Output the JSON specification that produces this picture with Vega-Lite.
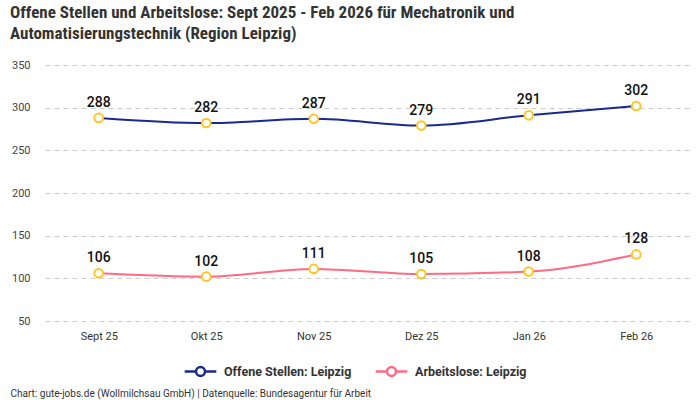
{
  "$schema": "https://vega.github.io/schema/vega-lite/v6.json",
  "autosize": {"type": "none"},
  "width": 645,
  "height": 256,
  "padding": {"left": 45, "top": 65, "right": 10, "bottom": 79},
  "background": "white",
  "title": {
    "text": ["Offene Stellen und Arbeitslose: Sept 2025 - Feb 2026 für Mechatronik und", "Automatisierungstechnik (Region Leipzig)"],
    "anchor": "start",
    "offset": 16,
    "font": "Liberation Sans Narrow, Roboto Condensed, Roboto",
    "fontSize": 17,
    "fontWeight": "bold",
    "color": "#333333",
    "lineHeight": 21
  },
  "config": {
    "view": {"stroke": null},
    "font": "Roboto"
  },
  "data": {
    "values": [
      {"monat": "Sept 25", "serie": "Offene Stellen: Leipzig", "wert": 288},
      {"monat": "Okt 25", "serie": "Offene Stellen: Leipzig", "wert": 282},
      {"monat": "Nov 25", "serie": "Offene Stellen: Leipzig", "wert": 287},
      {"monat": "Dez 25", "serie": "Offene Stellen: Leipzig", "wert": 279},
      {"monat": "Jan 26", "serie": "Offene Stellen: Leipzig", "wert": 291},
      {"monat": "Feb 26", "serie": "Offene Stellen: Leipzig", "wert": 302},
      {"monat": "Sept 25", "serie": "Arbeitslose: Leipzig", "wert": 106},
      {"monat": "Okt 25", "serie": "Arbeitslose: Leipzig", "wert": 102},
      {"monat": "Nov 25", "serie": "Arbeitslose: Leipzig", "wert": 111},
      {"monat": "Dez 25", "serie": "Arbeitslose: Leipzig", "wert": 105},
      {"monat": "Jan 26", "serie": "Arbeitslose: Leipzig", "wert": 108},
      {"monat": "Feb 26", "serie": "Arbeitslose: Leipzig", "wert": 128}
    ]
  },
  "encoding": {
    "x": {
      "field": "monat",
      "type": "ordinal",
      "sort": ["Sept 25", "Okt 25", "Nov 25", "Dez 25", "Jan 26", "Feb 26"],
      "scale": {"type": "point", "padding": 0.5},
      "axis": {
        "title": "Chart: gute-jobs.de (Wollmilchsau GmbH) | Datenquelle: Bundesagentur für Arbeit",
        "titleAnchor": "start",
        "titleAlign": "left",
        "titleX": -35,
        "titleY": 72,
        "titleBaseline": "middle",
        "titleFont": "Roboto",
        "titleFontSize": 10,
        "titleFontWeight": "normal",
        "titleColor": "#333333",
        "labelAngle": 0,
        "labelFontSize": 11,
        "labelColor": "#333333",
        "labelPadding": 9,
        "domain": false,
        "ticks": false,
        "grid": false
      }
    },
    "y": {
      "field": "wert",
      "type": "quantitative",
      "scale": {"domain": [50, 350], "nice": false},
      "axis": {
        "title": null,
        "values": [50, 100, 150, 200, 250, 300, 350],
        "labelFontSize": 11,
        "labelColor": "#444444",
        "labelPadding": 15,
        "domain": false,
        "ticks": false,
        "grid": true,
        "gridColor": "#cccccc",
        "gridDash": [5, 4],
        "gridWidth": 1
      }
    }
  },
  "layer": [
    {
      "mark": {"type": "line", "interpolate": "monotone", "strokeWidth": 2},
      "encoding": {
        "color": {
          "field": "serie",
          "type": "nominal",
          "sort": ["Offene Stellen: Leipzig", "Arbeitslose: Leipzig"],
          "scale": {"domain": ["Offene Stellen: Leipzig", "Arbeitslose: Leipzig"], "range": ["#1a2a8c", "#ff6b81"]},
          "legend": {
            "title": null,
            "orient": "none",
            "legendX": 138,
            "legendY": 289,
            "direction": "horizontal",
            "symbolType": "M-1,0L-0.28,0M0.28,0L1,0M0.28,0A0.28,0.28 0 1,1 -0.28,0A0.28,0.28 0 1,1 0.28,0",
            "symbolSize": 1000,
            "symbolStrokeWidth": 2.5,
            "symbolFillColor": "white",
            "labelFont": "Roboto",
            "labelFontSize": 12.5,
            "labelFontWeight": "bold",
            "labelColor": "#333333",
            "columnPadding": 18,
            "labelOffset": 6
          }
        }
      }
    },
    {
      "mark": {"type": "point", "filled": true, "fill": "white", "stroke": "#ffc425", "strokeWidth": 2, "size": 75, "opacity": 1},
      "encoding": {"detail": {"field": "serie"}}
    },
    {
      "mark": {"type": "text", "dy": -15, "fontSize": 14, "fontWeight": 500, "color": "#111111", "font": "Roboto"},
      "encoding": {"text": {"field": "wert", "type": "quantitative"}, "detail": {"field": "serie"}}
    }
  ]
}
